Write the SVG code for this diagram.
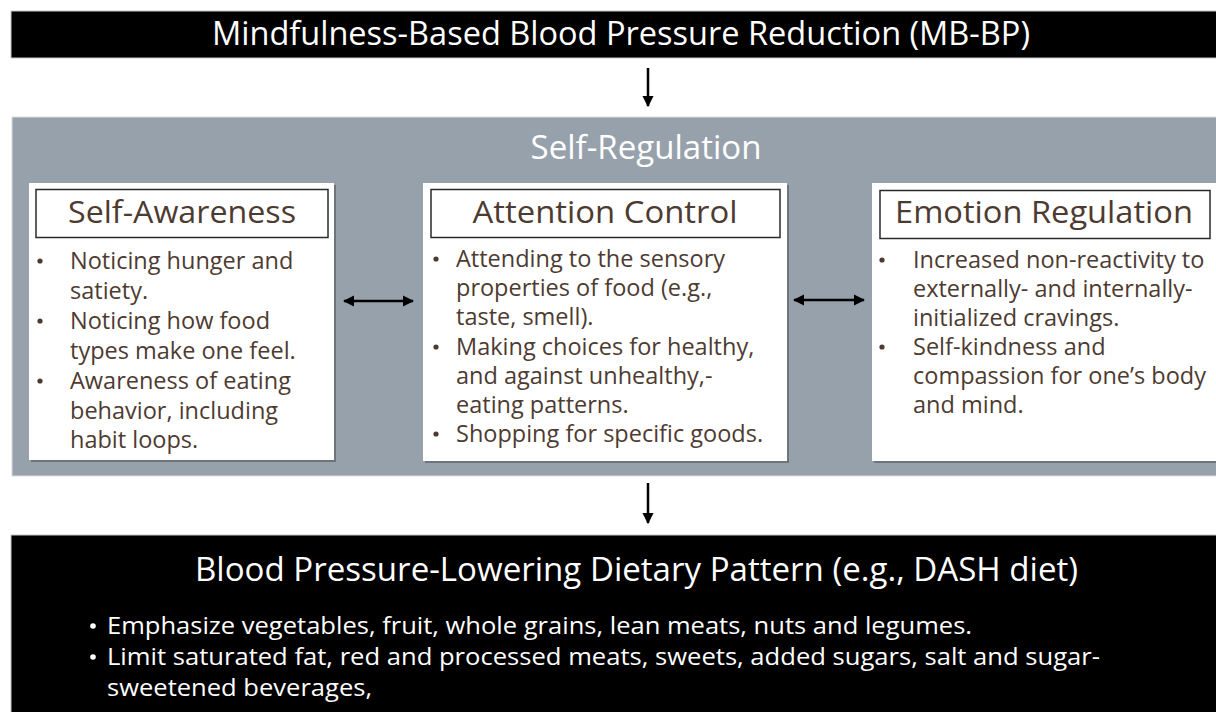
<svg xmlns="http://www.w3.org/2000/svg" width="1216" height="712" viewBox="0 0 1216 712">
<defs>
<style>
.bar{fill:#000;stroke:#c8c8c8;stroke-width:1}
.ttl{font-family:"Open Sans","Lato",sans-serif;font-size:32px;fill:#fff;text-anchor:middle}
.panel{fill:#97a1ab;stroke:#d8dbde;stroke-width:1}
.box{fill:#fff}
.shadow{fill:#5f656b;opacity:0.75}
.hdr{fill:#fff;stroke:#2a2a2a;stroke-width:1.5}
.htxt{font-family:"Open Sans","Lato",sans-serif;font-size:31px;fill:#4d3b31;text-anchor:middle}
.btxt{font-family:"Open Sans","Lato",sans-serif;font-size:23.5px;fill:#4d3b31}
.bul{fill:#4d3b31}
.wtxt{font-family:"Open Sans","Lato",sans-serif;font-size:24px;fill:#fff}
.ln{stroke:#000;stroke-width:2.5;fill:none}
</style>
<marker id="ah" viewBox="0 0 10 10" refX="9" refY="5" markerWidth="4.6" markerHeight="4.6" markerUnits="strokeWidth" orient="auto-start-reverse">
<path d="M0,0 L10,5 L0,10 Z" fill="#000"/>
</marker>
</defs>

<g id="mbbp">
<rect class="bar" x="11" y="11" width="1210" height="47"/>
<text class="ttl" x="621" y="45" textLength="818" lengthAdjust="spacingAndGlyphs">Mindfulness-Based Blood Pressure Reduction (MB-BP)</text>
</g>

<g id="self-regulation">
<rect class="panel" x="12" y="117" width="1210" height="359"/>
<text class="ttl" x="646" y="159" textLength="231" lengthAdjust="spacingAndGlyphs">Self-Regulation</text>
</g>

<g id="self-awareness">
<rect class="shadow" x="31" y="185" width="305" height="277"/>
<rect class="box" x="29" y="183" width="305" height="277"/>
<rect class="hdr" x="36" y="189.5" width="292" height="48"/>
<text class="htxt" x="182" y="223" textLength="228" lengthAdjust="spacingAndGlyphs">Self-Awareness</text>
<g class="bul">
<circle cx="40" cy="261" r="2.6"/><circle cx="40" cy="321" r="2.6"/><circle cx="40" cy="381" r="2.6"/>
</g>
<g class="btxt">
<text x="70" y="269">Noticing hunger and</text>
<text x="70" y="299">satiety.</text>
<text x="70" y="329">Noticing how food</text>
<text x="70" y="359">types make one feel.</text>
<text x="70" y="389">Awareness of eating</text>
<text x="70" y="419">behavior, including</text>
<text x="70" y="448">habit loops.</text>
</g>
</g>

<g id="attention-control">
<rect class="shadow" x="425" y="185" width="364" height="278"/>
<rect class="box" x="423" y="183" width="364" height="278"/>
<rect class="hdr" x="431" y="189.5" width="349" height="48"/>
<text class="htxt" x="605" y="223" textLength="265" lengthAdjust="spacingAndGlyphs">Attention Control</text>
<g class="bul">
<circle cx="436" cy="259" r="2.6"/><circle cx="436" cy="347" r="2.6"/><circle cx="436" cy="434" r="2.6"/>
</g>
<g class="btxt">
<text x="456" y="267">Attending to the sensory</text>
<text x="456" y="296">properties of food (e.g.,</text>
<text x="456" y="325">taste, smell).</text>
<text x="456" y="355">Making choices for healthy,</text>
<text x="456" y="384">and against unhealthy,-</text>
<text x="456" y="413">eating patterns.</text>
<text x="456" y="442">Shopping for specific goods.</text>
</g>
</g>

<g id="emotion-regulation">
<rect class="shadow" x="874" y="185" width="350" height="278"/>
<rect class="box" x="872" y="183" width="350" height="278"/>
<rect class="hdr" x="880" y="190.5" width="330" height="48"/>
<text class="htxt" x="1044" y="223" textLength="298" lengthAdjust="spacingAndGlyphs">Emotion Regulation</text>
<g class="bul">
<circle cx="882" cy="260" r="2.6"/><circle cx="882" cy="347" r="2.6"/>
</g>
<g class="btxt">
<text x="913" y="268">Increased non-reactivity to</text>
<text x="913" y="297">externally- and internally-</text>
<text x="913" y="326">initialized cravings.</text>
<text x="913" y="355">Self-kindness and</text>
<text x="913" y="384">compassion for one’s body</text>
<text x="913" y="413">and mind.</text>
</g>
</g>

<g id="dietary-pattern">
<rect class="bar" x="11" y="535" width="1210" height="190"/>
<text class="ttl" x="636.5" y="581" textLength="883" lengthAdjust="spacingAndGlyphs">Blood Pressure-Lowering Dietary Pattern (e.g., DASH diet)</text>
<circle cx="93" cy="626" r="2.8" fill="#fff"/>
<circle cx="93" cy="657" r="2.8" fill="#fff"/>
<text class="wtxt" x="107" y="634" textLength="865" lengthAdjust="spacingAndGlyphs">Emphasize vegetables, fruit, whole grains, lean meats, nuts and legumes.</text>
<text class="wtxt" x="107" y="665" textLength="993" lengthAdjust="spacingAndGlyphs">Limit saturated fat, red and processed meats, sweets, added sugars, salt and sugar-</text>
<text class="wtxt" x="107" y="696" textLength="265" lengthAdjust="spacingAndGlyphs">sweetened beverages,</text>
</g>

<g id="connectors">
<line class="ln" x1="648" y1="68" x2="648" y2="106" marker-end="url(#ah)"/>
<line class="ln" x1="344" y1="301" x2="413" y2="301" marker-start="url(#ah)" marker-end="url(#ah)"/>
<line class="ln" x1="794" y1="300" x2="864" y2="300" marker-start="url(#ah)" marker-end="url(#ah)"/>
<line class="ln" x1="648" y1="483" x2="648" y2="523" marker-end="url(#ah)"/>
</g>
</svg>
